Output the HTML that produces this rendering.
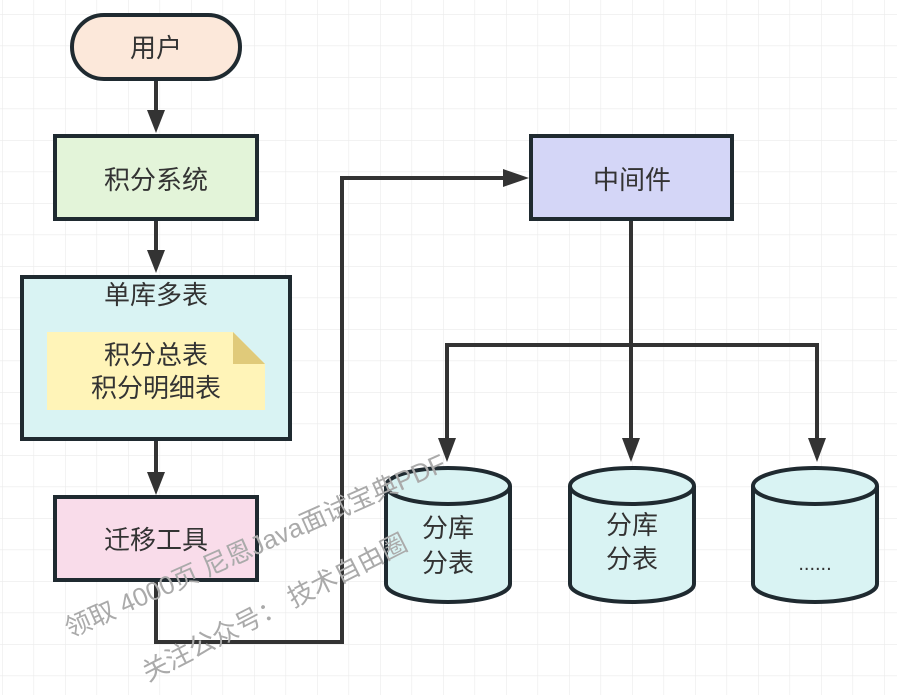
<!DOCTYPE html>
<html><head><meta charset="utf-8"><style>
html,body{margin:0;padding:0;background:#fff;}
svg{display:block;}
text{font-family:"Liberation Sans","Noto Sans CJK SC",sans-serif;fill:#333;}
</style></head><body>
<svg width="897" height="695" viewBox="0 0 897 695" xmlns="http://www.w3.org/2000/svg">
<defs>
<pattern id="g" x="2" y="14" width="31.5" height="31.5" patternUnits="userSpaceOnUse">
<path d="M0 0H31.5M0 0V31.5" stroke="#ebebeb" stroke-width="1.2" fill="none"/>
</pattern>
</defs>
<rect width="897" height="695" fill="url(#g)"/>
<g stroke="#333" stroke-width="4" fill="none">
<path d="M156 79V112M156 219V252M156 439V474"/>
<path d="M156 580V642H342V178H505"/>
<path d="M631 219V440M447 440V345H817V440"/>
</g>
<g fill="#333">
<path d="M147 110L165 110L156 133Z"/>
<path d="M147 250L165 250L156 273Z"/>
<path d="M147 472L165 472L156 495Z"/>
<path d="M503 169L503 187L529 178Z"/>
<path d="M438 438L456 438L447 462Z"/>
<path d="M622 438L640 438L631 462Z"/>
<path d="M808 438L826 438L817 462Z"/>
</g>
<g stroke="#1f2a30" stroke-width="4">
<rect x="72" y="15" width="168" height="64" rx="32" fill="#fce8da"/>
<rect x="55" y="136" width="202" height="83" fill="#e3f4d9"/>
<rect x="22" y="277" width="268" height="162" fill="#d9f3f3"/>
<rect x="55" y="497" width="202" height="83" fill="#f9dcea"/>
<rect x="531" y="136" width="201" height="83" fill="#d4d6f7"/>
</g>
<path d="M47 332H233L265 364V410H47Z" fill="#fff4b8"/>
<path d="M233 332L265 364H233Z" fill="#e0ca7a"/>
<g stroke="#1f2a30" stroke-width="4" fill="#d9f3f3">
<path d="M386 486V584A62 18 0 0 0 510 584V486"/>
<ellipse cx="448" cy="486" rx="62" ry="18"/>
<path d="M570 486V584A62 18 0 0 0 694 584V486"/>
<ellipse cx="632" cy="486" rx="62" ry="18"/>
<path d="M753 486V584A62 18 0 0 0 877 584V486"/>
<ellipse cx="815" cy="486" rx="62" ry="18"/>
</g>
<g font-size="26" text-anchor="middle">
<text x="156" y="57">用户</text>
<text x="156" y="189">积分系统</text>
<text x="156" y="304">单库多表</text>
<text x="156" y="364">积分总表</text>
<text x="156" y="397">积分明细表</text>
<text x="156" y="549">迁移工具</text>
<text x="632" y="189">中间件</text>
<text x="448" y="537">分库</text>
<text x="448" y="572">分表</text>
<text x="632" y="534">分库</text>
<text x="632" y="568">分表</text>
<text x="815" y="570" font-size="20">......</text>
</g>
<g font-size="26">
<text x="70" y="638" transform="rotate(-24 70 638)" style="fill:#aaa">领取 4000页 尼恩Java面试宝典PDF</text>
<text x="148" y="682" transform="rotate(-27 148 682)" style="fill:#aaa">关注公众号：  技术自由圈</text>
</g>
</svg>
</body></html>
